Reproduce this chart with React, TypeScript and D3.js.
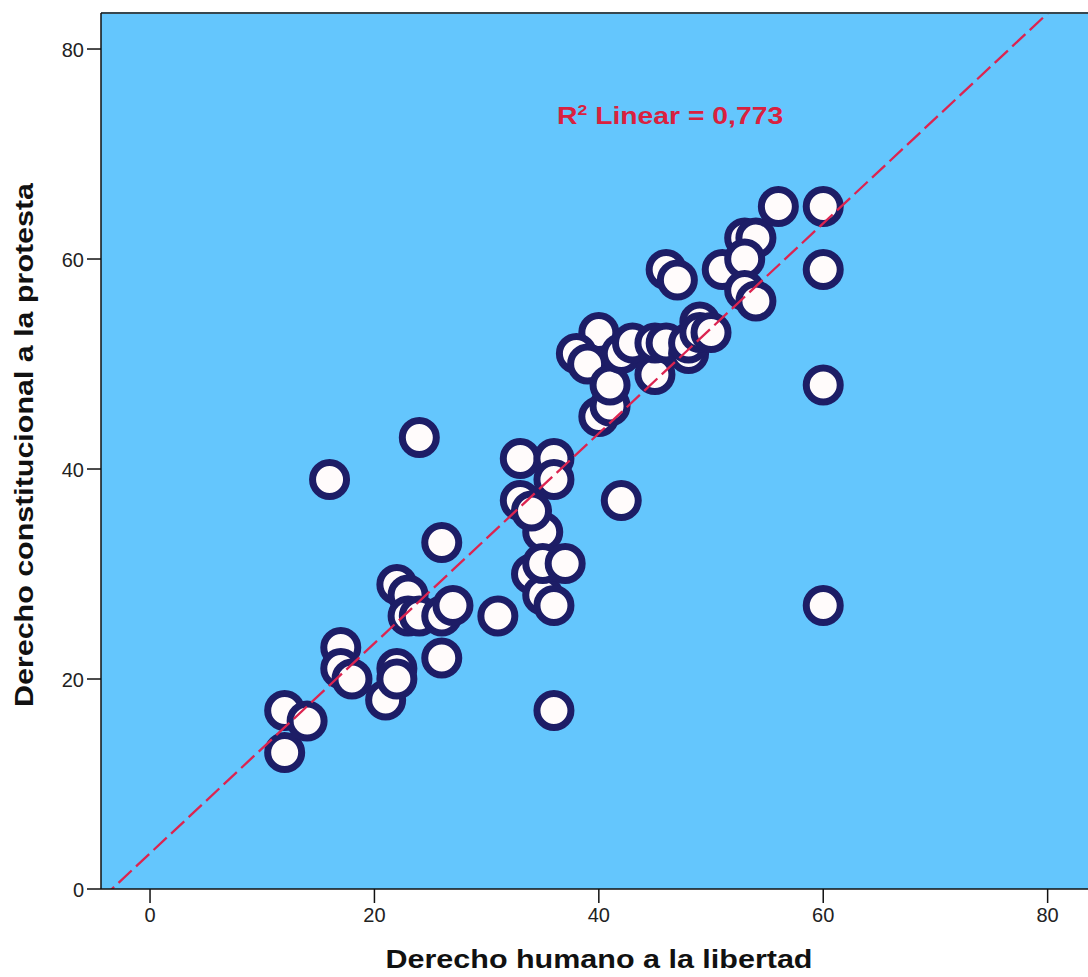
import React from "react";
import * as d3 from "d3";

const xVals = [12, 12, 14, 16, 17, 17, 18, 21, 22, 22, 22, 23, 23, 24, 24, 26, 26, 26, 27, 31,
  33, 33, 34, 35, 35, 35, 36, 36, 36, 37, 36, 34, 42, 40, 41, 40, 38, 39, 41, 42,
  43, 45, 45, 46, 46, 47, 48, 48, 49, 49, 51, 53, 54, 53, 53, 54, 56, 60, 60, 60, 60, 50];
const yVals = [17, 13, 16, 39, 23, 21, 20, 18, 21, 20, 29, 28, 26, 26, 43, 33, 22, 26, 27, 26,
  41, 37, 30, 34, 28, 31, 41, 39, 27, 31, 17, 36, 37, 45, 46, 53, 51, 50, 48, 51,
  52, 49, 52, 52, 59, 58, 51, 52, 54, 53, 59, 62, 62, 60, 57, 56, 65, 65, 59, 48, 27, 53];
const xTicks = [0, 20, 40, 60, 80];
const yTicks = [0, 20, 40, 60, 80];
const fitIntercept = 3.4;
const fitSlope = 1.0;
const xTitle = "Derecho humano a la libertad";
const yTitle = "Derecho constitucional a la protesta";

export default function App() {
  const W = 1088, H = 977;
  const left = 101, top = 13, right = 1097, bottom = 889;
  const x = d3.scaleLinear().domain([-4.37, 84.4]).range([left, right]);
  const y = d3.scaleLinear().domain([0, 83.43]).range([bottom, top]);
  const pts = xVals.map((v, i) => [v, yVals[i]]);
  const [x0, x1] = x.domain();
  const line = d3.line<number>().x((v) => x(v)).y((v) => y(fitIntercept + fitSlope * v));
  const lineXs = [x0, x1];
  const font = "'Liberation Sans', Arial, sans-serif";
  return (
    <svg width={W} height={H} style={{ position: "absolute", left: 0, top: 0, background: "#fff" }}>
      <defs>
        <clipPath id="plotclip">
          <rect x={left} y={top} width={right - left} height={bottom - top} />
        </clipPath>
      </defs>
      <rect x={left} y={top} width={right - left} height={bottom - top} fill="#64c6fd" />
      <g clipPath="url(#plotclip)">
        {pts.map((p, i) => (
          <circle key={i} cx={x(p[0])} cy={y(p[1])} r={17} fill="#fffbfb" stroke="#1d1d66" strokeWidth={7} />
        ))}
        <path d={line(lineXs) || ""} fill="none" stroke="#dc2450" strokeWidth={2.3} strokeDasharray="18 6" />
      </g>
      <line x1={left} x2={right} y1={top} y2={top} stroke="#37474f" strokeWidth={2} />
      <line x1={left} x2={left} y1={top} y2={bottom} stroke="#111" strokeWidth={1.5} />
      <line x1={left} x2={right} y1={bottom} y2={bottom} stroke="#111" strokeWidth={1.5} />
      {yTicks.map((t) => (
        <g key={"y" + t}>
          <line x1={left - 14} x2={left} y1={y(t)} y2={y(t)} stroke="#111" strokeWidth={1.5} />
          <text x={left - 17} y={y(t)} dy="0.38em" textAnchor="end" fontFamily={font} fontSize={20} fill="#222">{t}</text>
        </g>
      ))}
      {xTicks.map((t) => (
        <g key={"x" + t}>
          <line x1={x(t)} x2={x(t)} y1={bottom} y2={bottom + 14} stroke="#111" strokeWidth={1.5} />
          <text x={x(t)} y={bottom + 33} textAnchor="middle" fontFamily={font} fontSize={20} fill="#222">{t}</text>
        </g>
      ))}
      <text x={(left + right) / 2} y={968} textAnchor="middle" fontFamily={font} fontWeight="bold" fontSize={25} textLength={427} lengthAdjust="spacingAndGlyphs" fill="#111">{xTitle}</text>
      <text transform={`translate(33, 445) rotate(-90)`} textAnchor="middle" fontFamily={font} fontWeight="bold" fontSize={26} textLength={524} lengthAdjust="spacingAndGlyphs" fill="#111">{yTitle}</text>
      <g transform="translate(557, 124) scale(1.18, 1)">
        <text x={0} y={0} fontFamily={font} fontWeight="bold" fontSize={24} fill="#d9213f">
          R<tspan dy={-9} fontSize={15}>2</tspan><tspan dy={9}> Linear = 0,773</tspan>
        </text>
      </g>
    </svg>
  );
}
